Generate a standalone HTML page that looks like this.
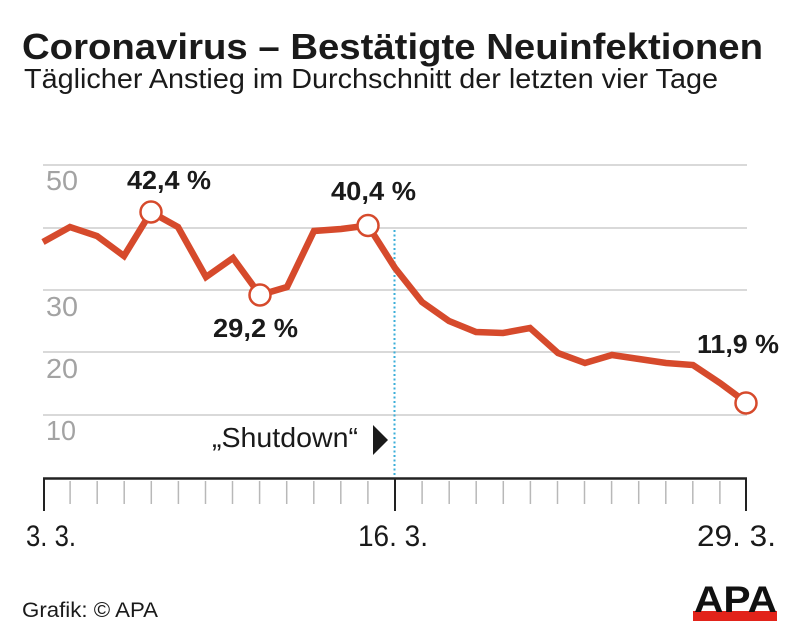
<!DOCTYPE html>
<html>
<head>
<meta charset="utf-8">
<style>
  html,body{margin:0;padding:0;background:#fff;}
  svg{display:block;}
  text{font-family:"Liberation Sans",Arial,sans-serif;}
</style>
</head>
<body>
<svg width="800" height="638" viewBox="0 0 800 638" xmlns="http://www.w3.org/2000/svg">
  <rect width="800" height="638" fill="#fff"/>

  <!-- Title -->
  <text x="22" y="59" font-size="36" font-weight="bold" fill="#1a1a1a" textLength="741" lengthAdjust="spacingAndGlyphs">Coronavirus – Bestätigte Neuinfektionen</text>
  <text x="24" y="88" font-size="28" fill="#1a1a1a" textLength="694" lengthAdjust="spacingAndGlyphs">Täglicher Anstieg im Durchschnitt der letzten vier Tage</text>

  <!-- Gridlines -->
  <g stroke="#d9d9d9" stroke-width="2">
    <line x1="43" y1="165" x2="747" y2="165"/>
    <line x1="43" y1="228" x2="747" y2="228"/>
    <line x1="43" y1="290" x2="747" y2="290"/>
    <line x1="43" y1="352" x2="680" y2="352"/>
    <line x1="43" y1="415" x2="747" y2="415"/>
  </g>

  <!-- Y labels -->
  <g font-size="28" fill="#a3a3a3">
    <text x="46" y="190" textLength="32" lengthAdjust="spacingAndGlyphs">50</text>
    <text x="46" y="316" textLength="32" lengthAdjust="spacingAndGlyphs">30</text>
    <text x="46" y="378" textLength="32" lengthAdjust="spacingAndGlyphs">20</text>
    <text x="46" y="440" textLength="30" lengthAdjust="spacingAndGlyphs">10</text>
  </g>

  <!-- Shutdown line -->
  <line x1="394.5" y1="230" x2="394.5" y2="478" stroke="#3aaed8" stroke-width="2" stroke-dasharray="2,2.5"/>

  <!-- Shutdown label -->
  <text x="212" y="447" font-size="28" fill="#1a1a1a" textLength="146" lengthAdjust="spacingAndGlyphs">„Shutdown“</text>
  <polygon points="373,425 388,440 373,455" fill="#1a1a1a"/>

  <!-- X axis -->
  <line x1="43" y1="478.5" x2="747" y2="478.5" stroke="#222" stroke-width="2.5"/>
  <g stroke="#b8b8b8" stroke-width="1.5">
    <line x1="70.1" y1="481" x2="70.1" y2="504"/>
    <line x1="97.2" y1="481" x2="97.2" y2="504"/>
    <line x1="124.2" y1="481" x2="124.2" y2="504"/>
    <line x1="151.3" y1="481" x2="151.3" y2="504"/>
    <line x1="178.4" y1="481" x2="178.4" y2="504"/>
    <line x1="205.5" y1="481" x2="205.5" y2="504"/>
    <line x1="232.5" y1="481" x2="232.5" y2="504"/>
    <line x1="259.6" y1="481" x2="259.6" y2="504"/>
    <line x1="286.7" y1="481" x2="286.7" y2="504"/>
    <line x1="313.8" y1="481" x2="313.8" y2="504"/>
    <line x1="340.8" y1="481" x2="340.8" y2="504"/>
    <line x1="367.9" y1="481" x2="367.9" y2="504"/>
    <line x1="422.1" y1="481" x2="422.1" y2="504"/>
    <line x1="449.2" y1="481" x2="449.2" y2="504"/>
    <line x1="476.2" y1="481" x2="476.2" y2="504"/>
    <line x1="503.3" y1="481" x2="503.3" y2="504"/>
    <line x1="530.4" y1="481" x2="530.4" y2="504"/>
    <line x1="557.5" y1="481" x2="557.5" y2="504"/>
    <line x1="584.5" y1="481" x2="584.5" y2="504"/>
    <line x1="611.6" y1="481" x2="611.6" y2="504"/>
    <line x1="638.7" y1="481" x2="638.7" y2="504"/>
    <line x1="665.8" y1="481" x2="665.8" y2="504"/>
    <line x1="692.8" y1="481" x2="692.8" y2="504"/>
    <line x1="719.9" y1="481" x2="719.9" y2="504"/>
  </g>
  <g stroke="#222" stroke-width="2">
    <line x1="44" y1="478" x2="44" y2="511"/>
    <line x1="395" y1="478" x2="395" y2="511"/>
    <line x1="746" y1="478" x2="746" y2="511"/>
  </g>
  <g font-size="30" fill="#1a1a1a">
    <text x="26" y="546" textLength="50" lengthAdjust="spacingAndGlyphs">3. 3.</text>
    <text x="358" y="546" textLength="70" lengthAdjust="spacingAndGlyphs">16. 3.</text>
    <text x="697" y="546" textLength="79" lengthAdjust="spacingAndGlyphs">29. 3.</text>
  </g>

  <!-- Data line -->
  <polyline fill="none" stroke="#d64a2c" stroke-width="6.5" stroke-linejoin="miter" stroke-linecap="butt"
    points="43,242 70,227 97,236 124,256 151,212 178,227 206,277 233,258 260,295 287,287 314,231 341,229 368,225.5 395,268 422,302 449,321 476,332 503,333 530,328 558,353 585,363 612,355 639,359 666,363 693,365 720,383 747,403"/>

  <!-- Markers -->
  <g fill="#fff" stroke="#d64a2c" stroke-width="2.5">
    <circle cx="151" cy="212" r="10.5"/>
    <circle cx="260" cy="295" r="10.5"/>
    <circle cx="368" cy="225.5" r="10.5"/>
    <circle cx="746" cy="403" r="10.5"/>
  </g>

  <!-- Value labels -->
  <g font-size="26" font-weight="bold" fill="#1a1a1a">
    <text x="127" y="189" textLength="84" lengthAdjust="spacingAndGlyphs">42,4 %</text>
    <text x="213" y="337" textLength="85" lengthAdjust="spacingAndGlyphs">29,2 %</text>
    <text x="331" y="200" textLength="85" lengthAdjust="spacingAndGlyphs">40,4 %</text>
    <text x="697" y="353" textLength="82" lengthAdjust="spacingAndGlyphs">11,9 %</text>
  </g>

  <!-- Footer -->
  <text x="22" y="617" font-size="21" fill="#1a1a1a" textLength="136" lengthAdjust="spacingAndGlyphs">Grafik: © APA</text>

  <!-- APA logo -->
  <rect x="693" y="611" width="84" height="10" fill="#e2231a"/>
  <text x="694" y="612" font-size="37" font-weight="bold" fill="#111" textLength="83" lengthAdjust="spacingAndGlyphs">APA</text>
</svg>
</body>
</html>
